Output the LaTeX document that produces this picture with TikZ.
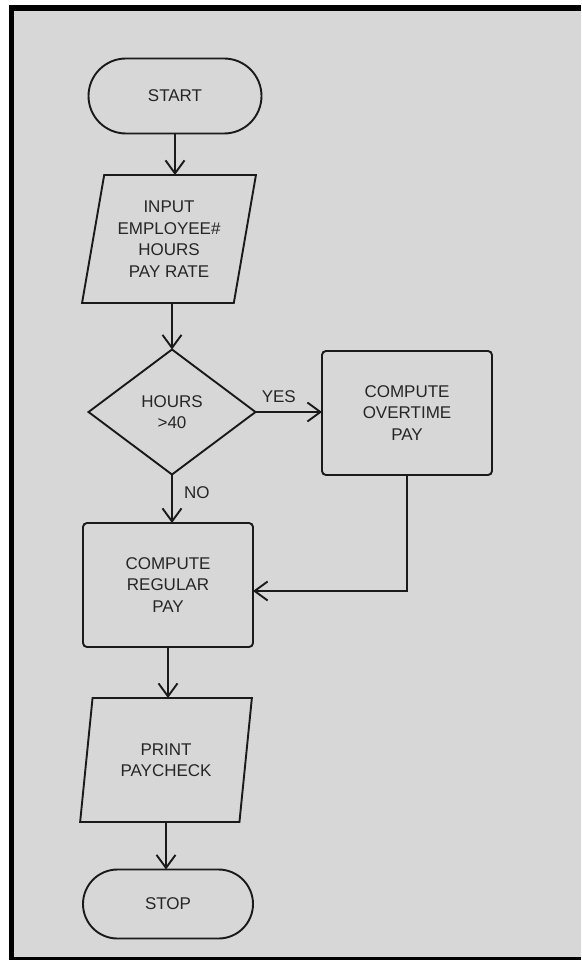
\documentclass[tikz,border=0pt]{standalone}
\usepackage{fontspec}
\setmainfont{Liberation Sans}
\usetikzlibrary{arrows.meta}
\usetikzlibrary{shapes.misc}
\usetikzlibrary{shapes.geometric}
\usetikzlibrary{positioning}
\definecolor{bggray}{HTML}{D7D7D7}
\definecolor{inkgray}{HTML}{1A1A1A}
\definecolor{textgray}{HTML}{262626}

\begin{document}
\begin{tikzpicture}[x=1pt,y=-1pt,
		every node/.style={font=\fontsize{17}{21.5}\selectfont,text=textgray,align=center,inner sep=0pt,outer sep=0pt},
		shapebox/.style={draw=inkgray,line width=1.9pt,fill=bggray},
		termbox/.style={shapebox,rounded rectangle,minimum width=173pt,minimum height=75pt},
		iobox/.style={shapebox,trapezium,trapezium left angle=77,trapezium right angle=103,trapezium stretches=true},
		decbox/.style={shapebox,diamond,minimum width=167pt,minimum height=125pt},
		procbox/.style={shapebox,rectangle,rounded corners=4pt,minimum width=170pt,minimum height=124pt},
		flow/.style={draw=inkgray,line width=1.9pt,-{Straight Barb[length=13pt,width=19pt]}}]
		\useasboundingbox (0,0) rectangle (581,960);
		\fill[black] (9,5) rectangle (581,960);
		\fill[bggray] (14,11) rectangle (581,957);

		\node[termbox] (start) at (175,96) {START};
		\node[iobox,minimum width=174pt,minimum height=128pt] (in) at (169,239) {INPUT\\EMPLOYEE\#\\HOURS\\PAY RATE};
		\node[decbox] (dec) at (172,412) {HOURS\\>40};
		\node[procbox] (ot) at (407,413) {COMPUTE\\OVERTIME\\PAY};
		\node[procbox] (reg) at (168,585) {COMPUTE\\REGULAR\\PAY};
		\node[iobox,minimum width=172pt,minimum height=124pt] (pr) at (166,760) {PRINT\\PAYCHECK};
		\node[termbox,minimum width=170pt,minimum height=69pt] (stop) at (168,904) {STOP};

		\draw[flow] (start.south) -- (start.south |- in.north);
		\draw[flow] (dec.north |- in.south) -- (dec.north);
		\draw[flow] (dec.east) -- (dec.east -| ot.west) node[pos=.35,above=9pt] {YES};
		\draw[flow] (dec.south) -- (dec.south |- reg.north) node[pos=.38,right=12pt] {NO};
		\draw[flow] (ot.south) |- ([yshift=-6pt]reg.east);
		\draw[flow] (reg.south) -- (reg.south |- pr.north);
		\draw[flow] (pr.south) -- (pr.south |- stop.north);
	\end{tikzpicture}
\end{document}
